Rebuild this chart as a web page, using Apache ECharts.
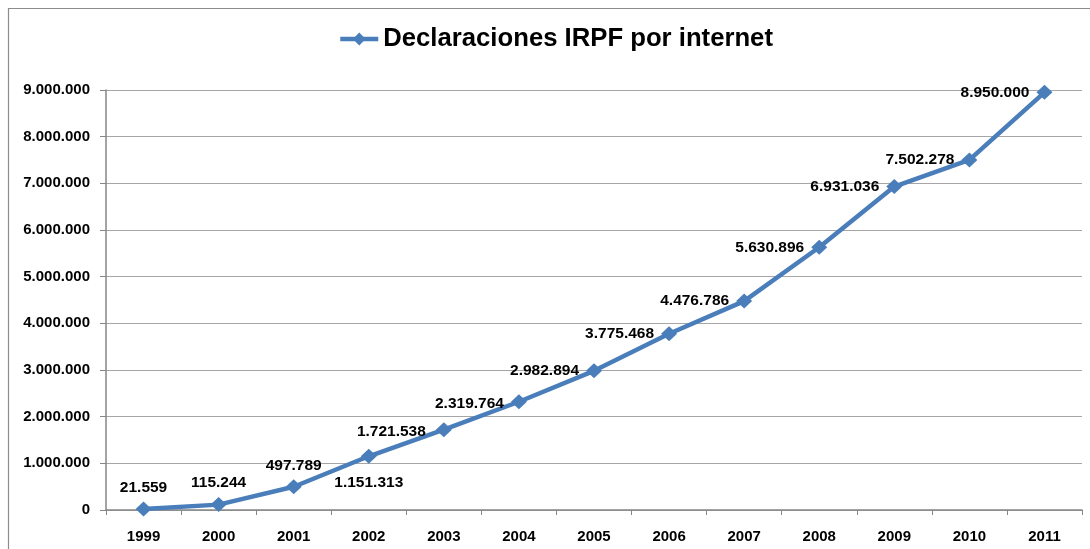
<!DOCTYPE html>
<html><head><meta charset="utf-8">
<script src="https://cdn.jsdelivr.net/npm/echarts@6/dist/echarts.min.js"></script>
<style>html,body{margin:0;padding:0;background:#fff}#c{width:1090px;height:549px}</style>
</head><body><div id="c"></div>
<script>
const years = ['1999','2000','2001','2002','2003','2004','2005','2006','2007','2008','2009','2010','2011'];
const declaraciones = [21559,115244,497789,1151313,1721538,2319764,2982894,3775468,4476786,5630896,6931036,7502278,8950000];
const seriesName = 'Declaraciones IRPF por internet';

function fmt(v){ return String(Math.round(v)).replace(/\B(?=(\d{3})+(?!\d))/g,'.'); }

const chart = echarts.init(document.getElementById('c'));
const dataItems = declaraciones.map((v,i)=>{
  let pos = i < 3 ? 'top' : (i === 3 ? 'bottom' : 'left');
  let off = [0,0];
  if (i < 3) off = [0,2];
  if (i === 3) off = [0,3];
  if (i === 4) off = [-4,2];
  if (i === 5) off = [-1,2];
  if (i >= 6) off = [-1,0];
  return {value:v, label:{position:pos, offset:off, distance:pos==='left'?6:8}};
});
chart.setOption({
  animation:false,
  backgroundColor:'#fff',
  graphic:[{type:'rect',shape:{x:8.5,y:8.5,width:1200,height:700},style:{fill:'none',stroke:'#8c8c8c',lineWidth:1.2},silent:true}],
  legend:{top:21,left:333,itemWidth:38,itemHeight:16,
    lineStyle:{width:4.5},
    textStyle:{fontFamily:'Liberation Sans, Arial',fontWeight:'bold',fontSize:25.7,color:'#000'},
    data:[seriesName]},
  grid:{left:106,top:90,right:8,bottom:39,containLabel:false},
  xAxis:{type:'category',data:years,boundaryGap:true,
    axisLine:{lineStyle:{color:'#868686',width:1.5}},
    axisTick:{show:true,alignWithLabel:false,length:5,lineStyle:{color:'#868686'}},
    axisLabel:{color:'#000',fontFamily:'Liberation Sans, Arial',fontWeight:'bold',fontSize:15,margin:19}},
  yAxis:{type:'value',min:0,max:9000000,interval:1000000,
    axisLine:{show:true,lineStyle:{color:'#868686',width:1.5}},
    axisTick:{show:true,length:6,lineStyle:{color:'#868686'}},
    splitLine:{lineStyle:{color:'#a6a6a6',width:1}},
    axisLabel:{color:'#000',fontFamily:'Liberation Sans, Arial',fontWeight:'bold',fontSize:15,margin:16,formatter:fmt}},
  series:[{name:seriesName,type:'line',data:dataItems,
    symbol:'diamond',symbolSize:[16,15],
    lineStyle:{color:'#4a7ebb',width:4.5},
    itemStyle:{color:'#4a7ebb'},
    label:{show:true,color:'#000',fontFamily:'Liberation Sans, Arial',fontWeight:'bold',fontSize:15.5,
      formatter:p=>fmt(p.value)}}]
});
</script></body></html>
